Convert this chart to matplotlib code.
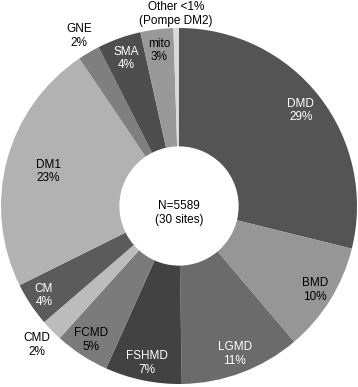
import matplotlib
matplotlib.use("Agg")
import numpy as np
import matplotlib.pyplot as plt

# Share of patients per diagnosis (%), clockwise from 12 o'clock
diagnoses = ["DMD", "BMD", "LGMD", "FSHMD", "FCMD", "CMD", "CM",
             "DM1", "GNE", "SMA", "mito", "Other"]
shares = [29, 10, 11, 7, 5, 2, 4, 23, 2, 4, 3, 0.5]
share_labels = ["29%", "10%", "11%", "7%", "5%", "2%", "4%",
                "23%", "2%", "4%", "3%", "<1%"]
center_text = "N=5589\n(30 sites)"

# styling
colors = ["#545454", "#969696", "#6b6b6b", "#424242", "#7b7b7b", "#bcbcbc",
          "#5b5b5b", "#b2b2b2", "#7f7f7f", "#4e4e4e", "#999999", "#dadada"]
text_colors = ["white", "black", "white", "white", "black", "black",
               "white", "black", "black", "white", "black", "black"]
label_radius = [0.87, 0.90, 0.89, 0.90, 0.90, 1.12, 0.91,
                0.76, 1.11, 0.88, 0.88, 1.08]

plt.rcParams["font.family"] = ["Liberation Sans", "DejaVu Sans"]

fig = plt.figure(figsize=(3.58, 3.87), dpi=100)
ax = fig.add_axes([1 / 358, 3 / 387, 356 / 358, 356 / 387])

wedges, _ = ax.pie(shares, colors=colors, startangle=90, counterclock=False,
                   radius=1.0, wedgeprops=dict(width=0.665, linewidth=0))

for w, name, pct, tc, r in zip(wedges, diagnoses, share_labels,
                               text_colors, label_radius):
    mid = np.deg2rad((w.theta1 + w.theta2) / 2)
    x, y = r * np.cos(mid), r * np.sin(mid)
    if name == "Other":
        txt = "Other <1%\n(Pompe DM2)"
    else:
        txt = f"{name}\n{pct}"
    ax.text(x, y, txt, ha="center", va="center", fontsize=8.5, color=tc,
            linespacing=1.2, clip_on=False)

ax.text(0, -0.04, center_text, ha="center", va="center", fontsize=8.5,
        color="black", linespacing=1.2)

ax.set_xlim(-1, 1)
ax.set_ylim(-1, 1)
ax.set_aspect("equal")
ax.axis("off")

fig.savefig("out.png", dpi=100)
